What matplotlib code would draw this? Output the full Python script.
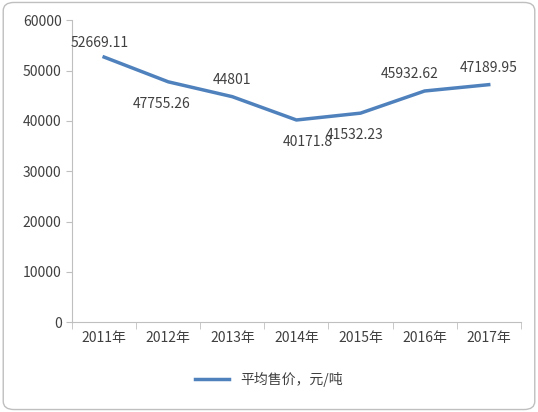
import matplotlib.pyplot as plt
from matplotlib.patches import FancyBboxPatch

plt.rcParams['font.family'] = ['Noto Sans CJK SC', 'DejaVu Sans']

years = ["2011年", "2012年", "2013年", "2014年", "2015年", "2016年", "2017年"]
prices = [52669.11, 47755.26, 44801, 40171.8, 41532.23, 45932.62, 47189.95]
labels = ["52669.11", "47755.26", "44801", "40171.8", "41532.23", "45932.62", "47189.95"]
# label offsets in points (dx, dy)
offsets = [(-3, 10), (-5, -16), (0, 12), (8, -16), (-4, -16), (-11, 12), (0, 12)]

fig = plt.figure(figsize=(5.38, 4.12), dpi=100)
fig.patches.append(FancyBboxPatch((0.006, 0.006), 0.988, 0.988, boxstyle="round,pad=0,rounding_size=0.02",
                                  transform=fig.transFigure, fill=False, edgecolor="#bfbfbf", linewidth=1))
ax = fig.add_axes([0.134, 0.218, 0.834, 0.733])

x = range(len(years))
ax.plot(x, prices, color="#4f81bd", linewidth=2.5, label="平均售价，元/吨")
for xi, yi, lab, (dx, dy) in zip(x, prices, labels, offsets):
    ax.annotate(lab, (xi, yi), textcoords="offset points", xytext=(dx, dy),
                ha="center", va="center", fontsize=10, color="#404040")

ax.set_xlim(-0.5, len(years) - 0.5)
ax.set_ylim(0, 60000)
ax.set_yticks(range(0, 60001, 10000))
ax.set_xticks(list(x))
ax.set_xticklabels(years)
ax.set_xticks([i - 0.5 for i in range(len(years) + 1)], minor=True)
ax.tick_params(axis='x', which='major', length=0, labelsize=10, colors="#404040", pad=6)
ax.tick_params(axis='x', which='minor', length=5, color="#bfbfbf")
ax.tick_params(axis='y', length=4, color="#bfbfbf", labelsize=10, labelcolor="#404040")
for s in ["top", "right"]:
    ax.spines[s].set_visible(False)
for s in ["left", "bottom"]:
    ax.spines[s].set_color("#bfbfbf")

fig.legend(loc="lower center", bbox_to_anchor=(0.5, 0.03), frameon=False, fontsize=10,
           handlelength=2.5, labelcolor="#404040")
fig.savefig("out.png", dpi=100)
